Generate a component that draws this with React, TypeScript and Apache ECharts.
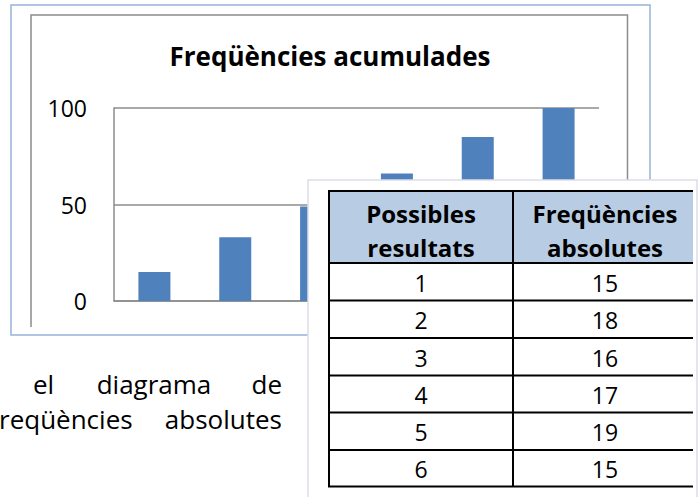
import React, { useEffect, useRef } from "react";
import * as echarts from "echarts";

const categories = ["1", "2", "3", "4", "5", "6"];
const cumulativeValues = [15, 33, 49, 66, 85, 100];
const yTicks = [0, 50, 100];
const tableHeaders = [["Possibles", "resultats"], ["Freqüències", "absolutes"]];
const possibleResults = ["1", "2", "3", "4", "5", "6"];
const absoluteFreqs = ["15", "18", "16", "17", "19", "15"];
const chartTitle = "Freqüències acumulades";
const paragraphLine1 = ["el", "diagrama", "de"];
const paragraphLine2 = ["reqüències", "absolutes"];

const FONT = "'Open Sans', 'Noto Sans', sans-serif";

export default function App() {
  const ref = useRef<HTMLDivElement>(null);
  useEffect(() => {
    document.body.style.margin = "0";
    if (!ref.current) return;
    const chart = echarts.init(ref.current, undefined, { renderer: "svg" });

    const tLeft = 329, tMid = 513, tRight = 693, tTop = 191, hBottom = 263;
    const rowTops = [263, 300.5, 338, 375.5, 412.5, 450, 486.5];
    const c1 = (tLeft + tMid) / 2, c2 = (tMid + tRight) / 2 + 2;

    const graphics: any[] = [];
    graphics.push({ type: "rect", z: 1, shape: { x: 11, y: 5, width: 639, height: 330 }, style: { fill: "none", stroke: "#95B3D7", lineWidth: 1.5 } });
    graphics.push({ type: "polyline", z: 1, shape: { points: [[31, 327], [31, 15], [627.5, 15], [627.5, 200]] }, style: { fill: "none", stroke: "#8C8C8C", lineWidth: 1.5 } });
    graphics.push({ type: "rect", z: 50, shape: { x: 308, y: 180, width: 389, height: 330 }, style: { fill: "#fff", stroke: "#DDDBEA", lineWidth: 1.5 } });
    graphics.push({ type: "rect", z: 51, shape: { x: tLeft, y: tTop, width: tRight - tLeft, height: hBottom - tTop }, style: { fill: "#B8CCE4" } });
    tableHeaders.forEach((lines, ci) => {
      const cx = ci === 0 ? c1 : c2;
      lines.forEach((t, li) => {
        graphics.push({ type: "text", z: 53, x: cx, y: 213 + li * 34, style: { text: t, fill: "#000", font: `bold 24px ${FONT}`, align: "center", verticalAlign: "middle" } });
      });
    });
    possibleResults.forEach((r, i) => {
      const cy = (rowTops[i] + rowTops[i + 1]) / 2 + 1;
      graphics.push({ type: "text", z: 53, x: c1, y: cy, style: { text: r, fill: "#000", font: `23px ${FONT}`, align: "center", verticalAlign: "middle" } });
      graphics.push({ type: "text", z: 53, x: c2, y: cy, style: { text: absoluteFreqs[i], fill: "#000", font: `23px ${FONT}`, align: "center", verticalAlign: "middle" } });
    });
    const hLines = [tTop, ...rowTops];
    hLines.forEach((y) => {
      graphics.push({ type: "line", z: 52, shape: { x1: tLeft - 1, y1: y, x2: tRight, y2: y }, style: { stroke: "#000", lineWidth: 2 } });
    });
    [tLeft, tMid].forEach((x) => {
      graphics.push({ type: "line", z: 52, shape: { x1: x, y1: tTop, x2: x, y2: rowTops[rowTops.length - 1] }, style: { stroke: "#000", lineWidth: 2 } });
    });
    graphics.push({ type: "text", z: 5, x: 330, y: 56, style: { text: chartTitle, fill: "#000", font: `bold 26px ${FONT}`, align: "center", verticalAlign: "middle" } });
    const l1x = [33, 154, 282];
    const l1a = ["left", "center", "right"];
    paragraphLine1.forEach((w, i) => {
      graphics.push({ type: "text", z: 5, x: l1x[i], y: 384, style: { text: w, fill: "#000", font: `26px ${FONT}`, align: l1a[i], verticalAlign: "middle" } });
    });
    const l2x = [-1, 282];
    const l2a = ["left", "right"];
    paragraphLine2.forEach((w, i) => {
      graphics.push({ type: "text", z: 5, x: l2x[i], y: 419, style: { text: w, fill: "#000", font: `26px ${FONT}`, align: l2a[i], verticalAlign: "middle" } });
    });

    chart.setOption({
      animation: false,
      grid: { left: 114, top: 108, right: 101, bottom: 196, containLabel: false },
      xAxis: {
        type: "category",
        data: categories,
        axisLine: { show: true, lineStyle: { color: "#8C8C8C", width: 1.5 } },
        axisTick: { show: false },
        axisLabel: { show: false },
      },
      yAxis: {
        type: "value",
        min: yTicks[0],
        max: yTicks[yTicks.length - 1],
        interval: 50,
        axisLine: { show: true, lineStyle: { color: "#8C8C8C", width: 1.5 } },
        axisTick: { show: false },
        splitLine: { show: true, lineStyle: { color: "#8C8C8C", width: 1.5 } },
        axisLabel: { color: "#000", fontSize: 23, fontFamily: FONT, margin: 27 },
      },
      series: [
        {
          type: "bar",
          data: cumulativeValues,
          barWidth: 32,
          itemStyle: { color: "#4F81BD" },
        },
      ],
      graphic: graphics,
    });
    return () => chart.dispose();
  }, []);
  return <div ref={ref} style={{ width: 700, height: 497 }} />;
}
